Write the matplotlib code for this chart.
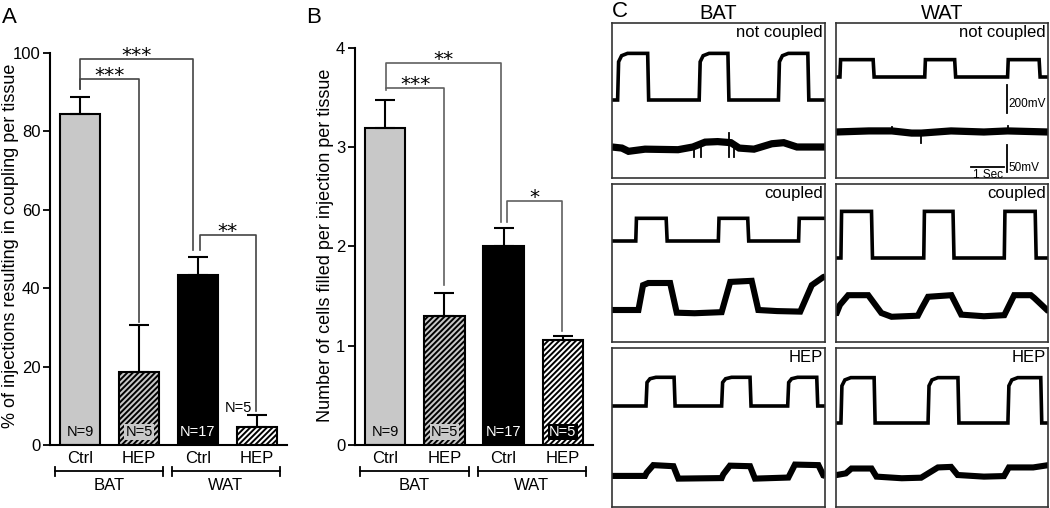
import matplotlib
matplotlib.use('Agg')
import matplotlib.pyplot as plt

plt.rcParams['font.family'] = ['Liberation Sans', 'DejaVu Sans']
plt.rcParams['hatch.linewidth'] = 1.4

# -------- BAR DATA --------
groups = ['BAT', 'WAT']
conds = ['Ctrl', 'HEP', 'Ctrl', 'HEP']
n_labels = ['N=9', 'N=5', 'N=17', 'N=5']

coupling_pct = [84.5, 18.6, 43.3, 4.6]
coupling_sem = [4.4, 12.0, 4.6, 3.0]

cells_filled = [3.19, 1.30, 2.01, 1.06]
cells_sem = [0.29, 0.23, 0.18, 0.04]

sig_a = [(0, 1, '***'), (0, 2, '***'), (2, 3, '**')]
sig_b = [(0, 1, '***'), (0, 2, '**'), (2, 3, '*')]

# -------- TRACE DATA (time in s, voltage in mV) --------
row_names = ['not coupled', 'coupled', 'HEP']

bat_top_rise = [[0.17, 2.64, 5.04], [0.72, 3.22, 5.65], [1.03, 3.32, 5.32]]
bat_top_fall = [[1.08, 3.51, 5.93], [1.64, 4.11], [1.88, 4.18, 6.20]]
bat_top_amp = [333, 162, 205]

wat_top_rise = [[0.12, 2.70, 5.22], [0.15, 2.67, 5.12], [0.15, 2.80, 5.23]]
wat_top_fall = [[1.13, 3.61, 6.18], [1.08, 3.56, 6.06], [1.16, 3.71, 6.23]]
wat_top_amp = [124, 333, 324]

bat_bot_t = [
    [0, 0.3, 0.5, 1.0, 2.0, 2.45, 2.82, 3.2, 3.6, 3.85, 4.3, 4.84, 5.2, 5.6, 6.45],
    [0, 0.80, 0.94, 1.1, 1.76, 1.96, 2.5, 3.32, 3.58, 4.23, 4.43, 5.0, 5.70,
     6.05, 6.40, 6.45],
    [0, 1.0, 1.05, 1.25, 1.86, 2.01, 3.32, 3.37, 3.57, 4.18, 4.33, 5.34, 5.54,
     6.25, 6.40, 6.45],
]
bat_bot_mv = [
    [0, -2, -8, -4, -5, 0, 9, 10, 8, -2, -4, 6, 8, 0, 0],
    [0, 0, 46, 50, 50, -5, -6, -4, 52, 54, 0, -2, -3, 46, 61, 62],
    [2, 2, 8, 22, 20, -3, -2, 5, 21, 20, -3, -1, 23, 22, 3, 2],
]
# brief spikes on the bottom traces (time, low mV, high mV)
bat_spikes = [[(2.49, -18, 0), (2.70, -18, 4), (3.53, -18, 26), (3.68, -18, 8)], [], []]

wat_bot_t = [
    [0, 1.0, 1.7, 2.3, 2.6, 3.5, 4.5, 5.22, 6.45],
    [0, 0.02, 0.12, 0.37, 0.98, 1.38, 1.69, 2.49, 2.60, 2.80, 3.51, 3.81, 4.5,
     5.12, 5.42, 5.93, 6.03, 6.43, 6.45],
    [0, 0.02, 0.3, 0.47, 1.08, 1.23, 2.0, 2.59, 3.10, 3.50, 3.70, 4.5, 5.11,
     5.26, 6.0, 6.43, 6.45],
]
wat_bot_mv = [
    [0, 2, 2, -2, -2, 2, 0, 2, 0],
    [0, 0, 15, 33, 33, 0, -7, -5, 8, 30, 33, -3, -6, -4, 33, 33, 28, 5, 5],
    [0, 0, 3, 12, 12, -3, -6, -5, 14, 15, 0, -3, -2, 14, 14, 18, 18],
]
wat_spikes = [[(1.70, 0, 9), (2.60, -20, 0), (5.22, 0, 11)], [], []]

# -------- FIGURE --------
W, H = 1050, 508
fig = plt.figure(figsize=(W / 100, H / 100), dpi=100)


def px_axes(x0, y0, x1, y1):
    return fig.add_axes([x0 / W, 1 - y1 / H, (x1 - x0) / W, (y1 - y0) / H])


def px_text(x, y, s, **kw):
    fig.text(x / W, 1 - y / H, s, **kw)


face = ['#c8c8c8', '#c8c8c8', 'black', 'white']
hatch = [None, '//////', None, '//////']


def bar_panel(ax, hpx, vals, sems, ylim, yticks, sigs, brackets, bcolor, n_style):
    x = range(len(vals))
    ax.bar(x, vals, width=0.68, color=face, edgecolor='black', linewidth=1.5,
           hatch=hatch, zorder=2)
    ax.errorbar(x, vals, yerr=[[0] * len(vals), sems], fmt='none', ecolor='black',
                elinewidth=1.5, capsize=7.5, capthick=1.5, zorder=3)
    ax.set_xlim(-0.51, 3.51)
    ax.set_ylim(*ylim)
    ax.set_yticks(yticks)
    ax.set_xticks(list(x))
    ax.set_xticklabels(conds)
    ax.tick_params(axis='x', length=0, pad=4, labelsize=12)
    ax.tick_params(axis='y', length=5, width=1.3, pad=2, labelsize=12)
    for s in ['top', 'right']:
        ax.spines[s].set_visible(False)
    for s in ['left', 'bottom']:
        ax.spines[s].set_linewidth(1.5)

    # significance brackets
    for (i, j, stars), (xl, xr, yb, ll, rl) in zip(sigs, brackets):
        ax.plot([xl, xl, xr, xr], [ll, yb, yb, rl], color=bcolor, lw=1.2,
                clip_on=False, zorder=1)
        ax.annotate(stars, ((xl + xr) / 2, yb), xytext=(0, -4.5),
                    textcoords='offset points', ha='center', va='bottom',
                    fontsize=14.5, family='DejaVu Sans', annotation_clip=False)

    tr = ax.get_xaxis_transform()
    # N labels (y given in px above the axis)
    for lab, (col, bg, xk, ypx) in zip(n_labels, n_style):
        bbox = None if bg is None else dict(facecolor=bg, edgecolor='none', pad=0.8)
        ax.text(xk, ypx / hpx, lab, transform=tr, ha='center', va='center',
                fontsize=10.5, color=col, bbox=bbox, zorder=4)

    # group brackets under the axis
    for g, (x0, x1) in zip(groups, [(-0.43, 1.41), (1.56, 3.39)]):
        ax.plot([x0, x1], [-26 / hpx] * 2, color='black', lw=1.3, transform=tr,
                clip_on=False)
        for xe in (x0, x1):
            ax.plot([xe, xe], [-21.5 / hpx, -30.5 / hpx], color='black', lw=1.3,
                    transform=tr, clip_on=False)
        ax.text((x0 + x1) / 2, -40 / hpx, g, transform=tr, ha='center', va='center',
                fontsize=12)


# -------- PANEL A --------
axA = px_axes(50, 53, 287, 445)
bar_panel(axA, 392, coupling_pct, coupling_sem, (0, 100), [0, 20, 40, 60, 80, 100], sig_a,
          [(0, 1.0, 93.4, 90.8, 31.3), (0, 1.915, 98.5, 90.8, 49.7), (2.03, 2.98, 53.6, 49.7, 8.6)],
          '#444444',
          [('black', None, 0, 13), ('black', '#c8c8c8', 1, 13), ('white', None, 2, 13),
           ('black', None, 2.68, 37)])
px_text(11, 246, '% of injections resulting in coupling per tissue', rotation=90,
        ha='center', va='center', fontsize=13)
px_text(2, 7, 'A', ha='left', va='top', fontsize=16)

# -------- PANEL B --------
axB = px_axes(355, 48, 593, 445)
bar_panel(axB, 397, cells_filled, cells_sem, (0, 4), [0, 1, 2, 3, 4], sig_b,
          [(0.01, 1.0, 3.6, 3.58, 1.61), (0.01, 1.95, 3.85, 3.6, 2.25), (2.06, 2.99, 2.46, 2.25, 1.15)],
          '#606060',
          [('black', None, 0, 13), ('black', '#c8c8c8', 1, 13), ('white', None, 2, 13),
           ('white', 'black', 3, 13)])
px_text(326, 245, 'Number of cells filled per injection per tissue', rotation=90,
        ha='center', va='center', fontsize=13)
px_text(306, 7, 'B', ha='left', va='top', fontsize=16)

# -------- PANEL C --------
cols_x = [(612, 825), (836, 1048)]
rows_y = [(23, 178), (184, 342), (348, 507)]
top_scale = 28 / 200     # px per mV
bot_scale = 27 / 50
bat_bases = [(77, 124), (57, 126), (58, 129)]
wat_bases = [(54, 109), (74, 129), (75, 127)]
rounded = [[True, False, True], [False, False, True]]


def square_wave(rises, falls, amp, t_end, rnd):
    t, v = [0], [0]
    for k, r in enumerate(rises):
        f = falls[k] if k < len(falls) else None
        if rnd:
            t += [r, r + 0.03, r + 0.12, r + 0.3]
            v += [0, 0.82 * amp, 0.95 * amp, amp]
        else:
            t += [r, r + 0.02]
            v += [0, amp]
        if f is None:
            t.append(t_end); v.append(amp)
        else:
            t += [f, f + 0.03]
            v += [amp, 0]
    if len(falls) == len(rises):
        t.append(t_end); v.append(0)
    return t, v


for ci, (col, rises, falls, amps, bt, bv, spikes, bases) in enumerate([
        ('BAT', bat_top_rise, bat_top_fall, bat_top_amp, bat_bot_t, bat_bot_mv, bat_spikes, bat_bases),
        ('WAT', wat_top_rise, wat_top_fall, wat_top_amp, wat_bot_t, wat_bot_mv, wat_spikes, wat_bases)]):
    x0, x1 = cols_x[ci]
    px_text((x0 + x1) / 2, 4, col, ha='center', va='top', fontsize=14.5)
    for ri in range(3):
        y0, y1 = rows_y[ri]
        ax = px_axes(x0, y0, x1, y1)
        ax.set_xlim(0, 6.45)
        ax.set_ylim(y1 - y0, 0)
        ax.set_xticks([]); ax.set_yticks([])
        for s in ax.spines.values():
            s.set_linewidth(1.2)
            s.set_color('#333333')
        tb, bb = bases[ri]
        t, v = square_wave(rises[ri], falls[ri], amps[ri], 6.45, rounded[ci][ri])
        ax.plot(t, [tb - m * top_scale for m in v], color='black', lw=2.6,
                solid_joinstyle='miter')
        ax.plot(bt[ri], [bb - m * bot_scale for m in bv[ri]], color='black',
                lw=5.2 if ri == 0 else 4.4, solid_joinstyle='miter', solid_capstyle='butt')
        for ts, lo, hi in spikes[ri]:
            ax.plot([ts, ts], [bb - lo * bot_scale, bb - hi * bot_scale], color='black', lw=1.3)
        ax.text(0.99, 0.985, row_names[ri], transform=ax.transAxes, ha='right', va='top',
                fontsize=12)
        if ci == 1 and ri == 0:
            xs = 5.21
            ax.plot([xs, xs], [90, 90 - 200 * top_scale], color='black', lw=1.3)
            ax.plot([xs, xs], [149, 149 - 50 * bot_scale], color='black', lw=1.3)
            ax.plot([xs - 1.09, xs - 0.09], [144, 144], color='black', lw=1.3)
            ax.text(xs + 0.05, 81, '200mV', ha='left', va='center', fontsize=8.5)
            ax.text(xs + 0.05, 145, '50mV', ha='left', va='center', fontsize=8.5)
            ax.text(xs - 0.59, 146, '1 Sec', ha='center', va='top', fontsize=8.5)

px_text(612, 1, 'C', ha='left', va='top', fontsize=16)

fig.savefig('out.png', dpi=100)
